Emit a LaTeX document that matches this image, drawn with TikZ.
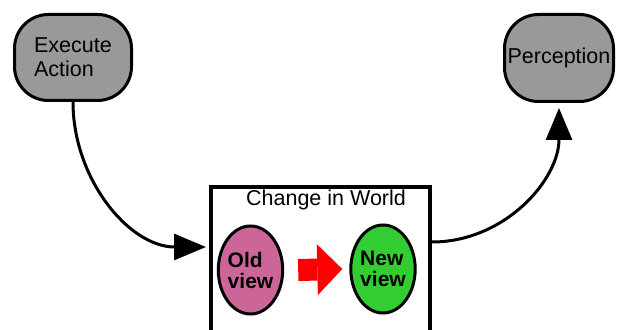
\documentclass[tikz,border=0pt]{standalone}
\usepackage{fontspec}
\setmainfont{Liberation Sans}
\usetikzlibrary{arrows.meta,shapes.geometric}
\definecolor{stategray}{HTML}{999999}
\definecolor{oldpink}{HTML}{CC6699}
\definecolor{newgreen}{HTML}{33CC33}

\begin{document}
\begin{tikzpicture}[x=1pt,y=1pt,line width=3pt,font=\fontsize{21.5}{24}\selectfont,
	state/.style={draw,fill=stategray,rounded corners=34pt,align=left,inner sep=0pt},
	view/.style={draw,ellipse,align=left,inner sep=0pt,minimum width=57pt,minimum height=88pt,
	  font=\fontsize{21}{21}\selectfont\bfseries},
	link/.style={-{Triangle[length=32pt,width=26pt]}}]
	\useasboundingbox (0,0) rectangle (617,329);
	
	%states
	\node[state,minimum width=117pt,minimum height=86pt] (exec) at (73,271.5) {Execute\\Action};
	\node[state,minimum width=109pt,minimum height=87pt] (perc) at (559,271) {Perception};
	
	%world box
	\node[draw,line width=4pt,inner sep=0pt,minimum width=219pt,minimum height=220pt,anchor=north west] (world) at (209,144) {};
	\node (title) at (326,129) {Change in World}; %title
	\node[view,fill=oldpink] (old) at (250.5,59) {Old\\view};
	\node[view,fill=newgreen] (new) at (383,60) {New\\view};
	\draw[red,line width=22pt,-{Triangle[length=25pt,width=51pt,line width=0pt]}]
	  ([xshift=14pt]old.east) -- ([xshift=-7pt]new.west); %change arrow
	
	%connectors
	\draw[link] (exec.south) to[out=-90,in=180] ([shift={(-3pt,-62pt)}]world.north west);
	\draw[link] ([yshift=-57pt]world.north east) to[out=0,in=-90] ([yshift=-5pt]perc.south);
\end{tikzpicture}
\end{document}
